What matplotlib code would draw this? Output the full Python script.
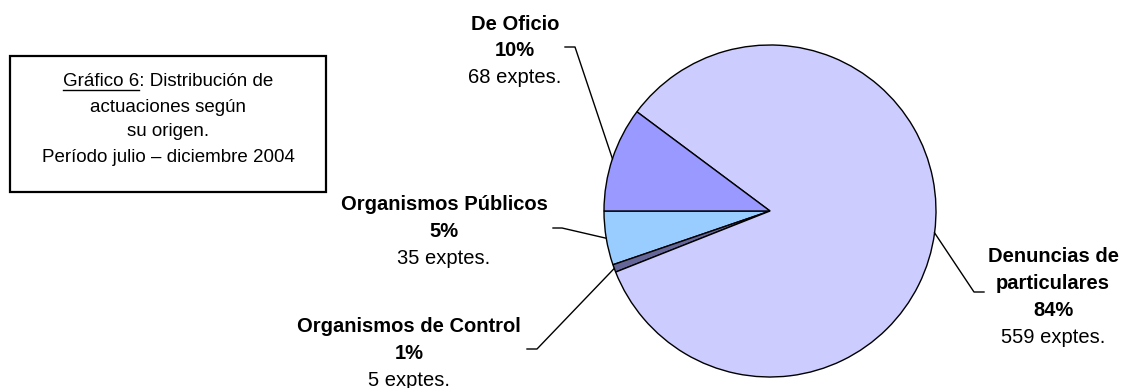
import numpy as np
import matplotlib.pyplot as plt
from matplotlib.patches import Rectangle

# Expedientes by origin, Jul-Dec 2004
origins = ['Organismos Públicos', 'Organismos de Control', 'Denuncias de\nparticulares', 'De Oficio']
counts = [35, 5, 559, 68]
colors = ['#99CCFF', '#666699', '#CCCCFF', '#9999FF']

title_lines = ['Gráfico 6: Distribución de', 'actuaciones según', 'su origen.',
               'Período julio – diciembre 2004']
title_underlined = 'Gráfico 6'

W, H = 1130, 388
plt.rcParams['font.family'] = ['Liberation Sans', 'DejaVu Sans']

fig = plt.figure(figsize=(W / 100, H / 100), dpi=100)
ax = fig.add_axes([0, 0, 1, 1])

cx, cy, r = 770, H - 211, 166
wedges, _ = ax.pie(counts, colors=colors, startangle=180, counterclock=True,
                   center=(cx, cy), radius=r,
                   wedgeprops=dict(edgecolor='black', linewidth=1.0))
ax.set_xlim(0, W)
ax.set_ylim(0, H)
ax.set_aspect('equal')
ax.axis('off')

# label block: text centre x, first line y (from top), leader elbow, leader end
layout = {
    'De Oficio': (515, 24, (575, 47), (565, 47)),
    'Organismos Públicos': (444, 205, (562, 228), (553, 228)),
    'Organismos de Control': (409, 327, (537, 349), (527, 349)),
    'Denuncias de\nparticulares': (1053, 257, (974, 292), (984, 292)),
}
fs = 14.5
step = 26.8
total = sum(counts)
for w, name, n in zip(wedges, origins, counts):
    tx, ty, elbow, end = layout[name]
    mid = np.radians((w.theta1 + w.theta2) / 2)
    anchor = (cx + r * np.cos(mid), cy + r * np.sin(mid))
    ax.plot([anchor[0], elbow[0], end[0]], [anchor[1], H - elbow[1], H - end[1]],
            color='black', lw=1.0)
    lines = name.split('\n') + [f'{round(100 * n / total)}%']
    y = ty
    for ln in lines:
        ax.text(tx, H - y, ln, ha='center', va='center', fontsize=fs, fontweight='bold')
        y += step
    ax.text(tx, H - y, f'{n} exptes.', ha='center', va='center', fontsize=fs)

# caption box
ax.add_patch(Rectangle((10, H - 192), 316, 136, fill=False, edgecolor='black', lw=1.6))
box_font = ['Liberation Sans Narrow', 'Liberation Sans', 'DejaVu Sans']
bx = 168
ty = 82
texts = []
for ln in title_lines:
    texts.append(ax.text(bx, H - ty, ln, ha='center', va='center', fontsize=13.5,
                         family=box_font))
    ty += 25

# underline the figure number
fig.canvas.draw()
rend = fig.canvas.get_renderer()
first = texts[0]
bb = first.get_window_extent(rend)
probe = ax.text(0, 0, title_underlined, fontsize=13.5, family=box_font)
pw = probe.get_window_extent(rend).width
probe.remove()
uy = H - 82 - 8
ax.plot([bb.x0, bb.x0 + pw], [uy, uy], color='black', lw=1.0)

fig.savefig('out.png', dpi=100)
